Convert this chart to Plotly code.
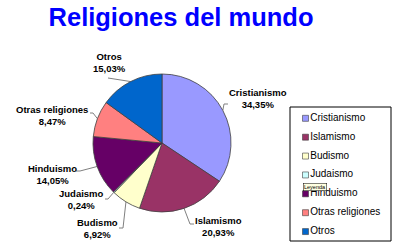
import math
import plotly.graph_objects as go

# ---- data ----
religions = ["Cristianismo", "Islamismo", "Budismo", "Judaismo",
             "Hinduismo", "Otras religiones", "Otros"]
shares = [34.35, 20.93, 6.92, 0.24, 14.05, 8.47, 15.03]
colors = ["#9999FF", "#993366", "#FFFFCC", "#CCFFFF",
          "#660066", "#FF8080", "#0066CC"]
title_text = "Religiones del mundo"

# ---- layout constants (pixels, origin top-left) ----
W, H = 400, 251
CX, CY, R = 162, 143, 69          # pie centre and radius
FONT = "Liberation Sans, Arial, sans-serif"

# label block centres and leader-line elbows / ends
label_pos = [(258, 98), (218, 226), (97, 228), (81, 199),
             (52.5, 174), (51.5, 115), (109, 62)]
line_elbow = [(224, 104), (190, 224), (123, 228), (108, 199),
              (80, 171), (93, 113), (115, 79)]
line_end = [(228, 104), (194, 224), (119, 228), (105, 199),
            (76, 171), (90, 113), (108, 78)]

fig = go.Figure()

# pie, clockwise from 12 o'clock
fig.add_trace(go.Pie(
    labels=religions, values=shares, sort=False, direction="clockwise",
    rotation=0, marker=dict(colors=colors, line=dict(color="#404040", width=0.8)),
    textinfo="none", hoverinfo="skip", showlegend=False,
    domain=dict(x=[(CX - R) / W, (CX + R) / W],
                y=[(H - CY - R) / H, (H - CY + R) / H]),
))

# leader lines, starting from each slice's outer mid-point
total = sum(shares)
cum = 0.0
for i, v in enumerate(shares):
    mid = (cum + v / 2) / total * 2 * math.pi
    cum += v
    ex, ey = CX + R * math.sin(mid), CY - R * math.cos(mid)
    fig.add_trace(go.Scatter(
        x=[ex, line_elbow[i][0], line_end[i][0]],
        y=[ey, line_elbow[i][1], line_end[i][1]],
        mode="lines", line=dict(color="#808080", width=1),
        xaxis="x3", yaxis="y3", hoverinfo="skip", showlegend=False))
    pct = f"{v:.2f}".replace(".", ",") + "%"
    fig.add_annotation(
        x=label_pos[i][0], y=label_pos[i][1], xref="x3", yref="y3",
        text=f"<b>{religions[i]}</b><br><b>{pct}</b>", showarrow=False,
        font=dict(family=FONT, size=9.5, color="#000000"),
        xanchor="center", yanchor="middle", align="center")

# legend rows
fig.add_trace(go.Scatter(
    x=[15.5] * len(religions), y=list(range(len(religions))),
    mode="markers+text", text=religions, textposition="middle right",
    textfont=dict(family=FONT, size=10, color="#000000"),
    marker=dict(symbol="square", size=6, color=colors,
                line=dict(color="#404040", width=0.6)),
    xaxis="x2", yaxis="y2", hoverinfo="skip", showlegend=False))

lx0, lx1, ly0, ly1 = 290, 391, 107, 241
fig.add_shape(type="rect", xref="paper", yref="paper",
              x0=lx0 / W, x1=lx1 / W, y0=1 - ly1 / H, y1=1 - ly0 / H,
              line=dict(color="#000000", width=1), fillcolor="rgba(0,0,0,0)",
              layer="below")

# tooltip over the legend
fig.add_annotation(x=315, y=187, xref="x3", yref="y3", text="Leyenda",
                   showarrow=False, font=dict(family=FONT, size=5.5, color="#000"),
                   bgcolor="#FFFFE1", bordercolor="#000000", borderwidth=0.5,
                   borderpad=0.5)

hidden = dict(visible=False, fixedrange=True)
fig.update_layout(
    width=W, height=H, margin=dict(l=0, r=0, t=0, b=0),
    paper_bgcolor="white", plot_bgcolor="rgba(0,0,0,0)",
    title=dict(text=title_text, x=181 / W, xanchor="center",
               y=1 - 17 / H, yanchor="middle", yref="container",
               font=dict(family=FONT, size=25.5, color="#0000FF", weight="bold")),
    xaxis=dict(domain=[0, 0.01], **hidden),
    yaxis=dict(domain=[0, 0.01], **hidden),
    xaxis2=dict(domain=[lx0 / W, lx1 / W], range=[0, lx1 - lx0], anchor="y2", **hidden),
    yaxis2=dict(domain=[1 - ly1 / H, 1 - ly0 / H], range=[6.5, -0.6], anchor="x2", **hidden),
    xaxis3=dict(domain=[0, 1], range=[0, W], anchor="y3", **hidden),
    yaxis3=dict(domain=[0, 1], range=[H, 0], anchor="x3", **hidden),
)

fig.write_html("out.html")
